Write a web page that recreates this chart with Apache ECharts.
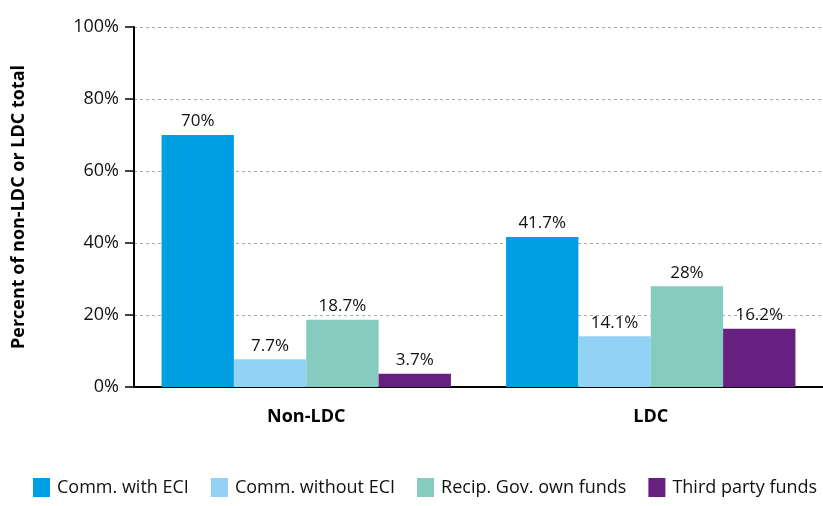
<!DOCTYPE html>
<html><head><meta charset="utf-8">
<script src="https://cdn.jsdelivr.net/npm/echarts@6/dist/echarts.min.js"></script>
<style>html,body{margin:0;padding:0;background:#fff}#c{width:823px;height:506px}</style>
</head><body><div id="c"></div>
<script>
const categories = ['Non-LDC', 'LDC'];
const seriesNames = ['Comm. with ECI', 'Comm. without ECI', 'Recip. Gov. own funds', 'Third party funds'];
const commWithECI = [70, 41.7];
const commWithoutECI = [7.7, 14.1];
const recipGovOwn = [18.7, 28];
const thirdParty = [3.7, 16.2];
const yTicks = [0, 20, 40, 60, 80, 100];
const colors = ['#009FE3', '#92D2F5', '#85CBBF', '#67207F'];
const font = 'Open Sans';
const values = [commWithECI, commWithoutECI, recipGovOwn, thirdParty];

const chart = echarts.init(document.getElementById('c'));
chart.setOption({
  animation: false,
  textStyle: { fontFamily: font },
  grid: { left: 134, right: 0, top: 27, bottom: 119, containLabel: false },
  legend: {
    bottom: 4, left: 28, itemWidth: 17, itemHeight: 19, itemGap: 22,
    textStyle: { fontSize: 18, color: '#111', fontFamily: font, padding: [0, 0, 0, 2] },
    icon: 'rect',
    data: seriesNames
  },
  xAxis: {
    type: 'category', data: categories,
    axisLine: { lineStyle: { color: '#000', width: 2 } },
    axisTick: { show: false },
    axisLabel: { margin: 21, fontSize: 18, fontWeight: 'bold', color: '#000', fontFamily: font }
  },
  yAxis: {
    type: 'value', min: 0, max: 100, interval: 20,
    name: 'Percent of non-LDC or LDC total', nameLocation: 'middle', nameGap: 106,
    nameTextStyle: { fontSize: 18, fontWeight: 'bold', color: '#000', fontFamily: font },
    axisLine: { show: true, lineStyle: { color: '#000', width: 2 } },
    axisTick: { show: true, inside: false, length: 9, lineStyle: { color: '#000', width: 1.5 } },
    axisLabel: { margin: 15, fontSize: 18, color: '#111', fontFamily: font,
      formatter: v => yTicks.includes(v) ? v + '%' : '' },
    splitLine: { show: true, lineStyle: { color: '#aaa', type: [3, 3], width: 1 } }
  },
  series: seriesNames.map((n, i) => ({
    name: n, type: 'bar', data: values[i],
    barGap: '0%', barCategoryGap: '16%',
    itemStyle: { color: colors[i] },
    label: { show: true, position: 'top', distance: 5, fontSize: 17, color: '#111', fontFamily: font,
      formatter: p => p.value + '%' }
  }))
});
</script></body></html>
